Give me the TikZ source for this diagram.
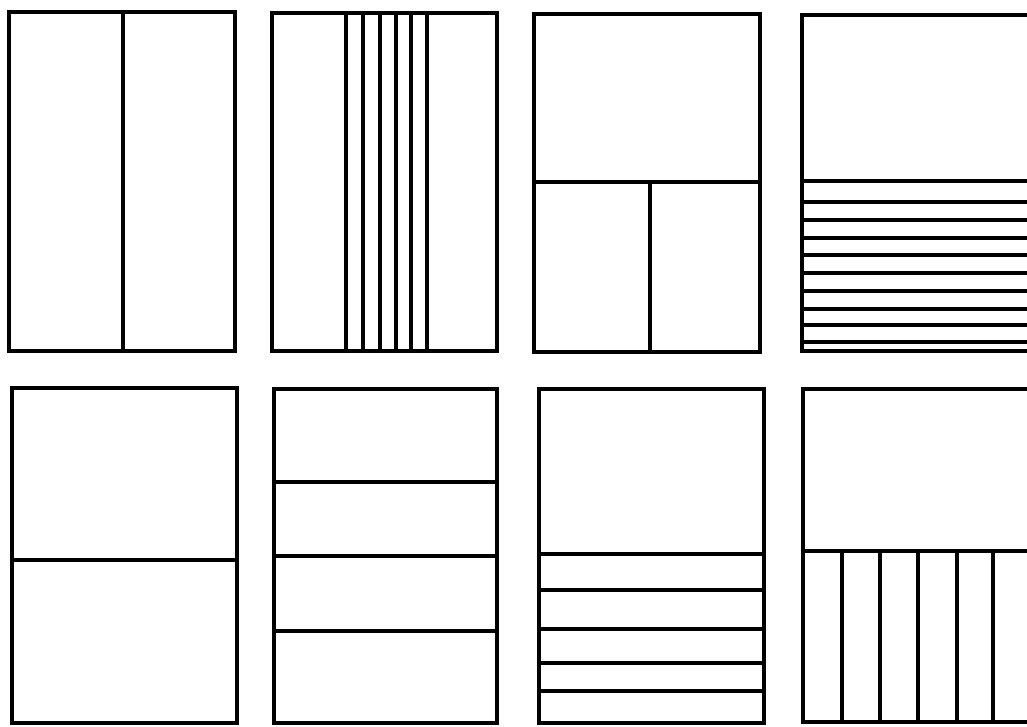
\documentclass[tikz,border=0pt]{standalone}
\usepackage{tikz}

\begin{document}
\begin{tikzpicture}[
  x=1pt, y=-1pt,
  panel/.style={draw=black, line width=3.4pt},
  divide/.style={draw=black, line width=3.2pt}
]
  \useasboundingbox (0,0) rectangle (1027,726);
  \clip (0,0) rectangle (1027,726);

  % top row
  \draw[panel] (9,12) rectangle (235,351);
  \draw[divide] (123,12) -- (123,351);

  \draw[panel] (272,13) rectangle (497,351);
  \foreach \xv in {346,363,380,396,411,427}
    \draw[divide] (\xv,13) -- (\xv,351);

  \draw[panel] (534,14) rectangle (760,352);
  \draw[divide] (534,182) -- (760,182);
  \draw[divide] (650,182) -- (650,352);

  \draw[panel] (802,15) rectangle (1045,351);
  \foreach \yv in {181,202,220,238,255,273,291,309,325,342}
    \draw[divide] (802,\yv) -- (1045,\yv);

  % bottom row
  \draw[panel] (12,388) rectangle (237,723);
  \draw[divide] (12,560) -- (237,560);

  \draw[panel] (274,389) rectangle (497,723);
  \foreach \yv in {482,556,631}
    \draw[divide] (274,\yv) -- (497,\yv);

  \draw[panel] (539,389) rectangle (764,723);
  \foreach \yv in {554,590,629,663,691}
    \draw[divide] (539,\yv) -- (764,\yv);

  \draw[panel] (803,389) rectangle (1045,722);
  \draw[divide] (803,551) -- (1045,551);
  \foreach \xv in {842,880,918,957,993}
    \draw[divide] (\xv,551) -- (\xv,722);
\end{tikzpicture}
\end{document}
